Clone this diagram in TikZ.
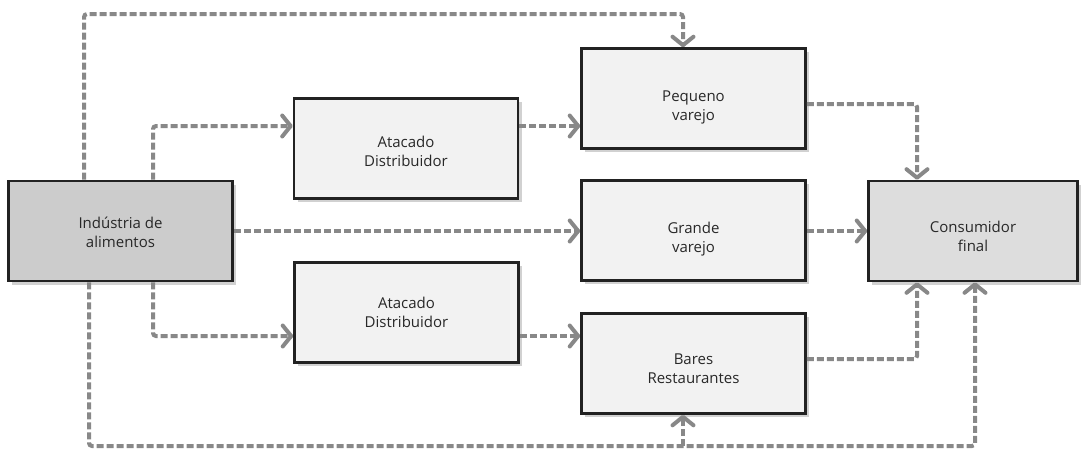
\documentclass[tikz,border=0pt]{standalone}
\usepackage{fontspec}
\setmainfont{Open Sans}
\usetikzlibrary{arrows.meta,shadows}
\definecolor{flowgray}{RGB}{136,136,136}
\definecolor{boxline}{RGB}{34,34,34}
\definecolor{boxlight}{RGB}{242,242,242}
\definecolor{boxdark}{RGB}{204,204,204}
\definecolor{boxmid}{RGB}{221,221,221}
\definecolor{txt}{RGB}{40,40,40}
\begin{document}
\begin{tikzpicture}[x=1pt,y=-1pt,
  box/.style={draw=boxline, line width=2.6pt, fill=boxlight, minimum width=224pt, minimum height=100pt,
    inner sep=0pt,
    drop shadow={shadow xshift=3.5pt, shadow yshift=-3.5pt, fill=black!18, opacity=1}},
  lbl/.style={align=center, text=txt, font=\fontsize{15}{19}\selectfont, inner sep=0pt},
  flow/.style={draw=flowgray, line width=4pt, dash pattern=on 7pt off 3pt, rounded corners=3pt,
    -{Straight Barb[length=8.5pt,width=21pt,round]}}
]
\useasboundingbox (0,0) rectangle (1082,448);
\fill[white] (0,0) rectangle (1082,448);

% junction coordinates
\coordinate (j1) at (683,14);
\coordinate (j2) at (153,126);
\coordinate (j4) at (917,104);
\coordinate (j7) at (153,336);
\coordinate (j9) at (917,359);
\coordinate (j10) at (89,446);
\coordinate (j11) at (975,446);
\coordinate (j12) at (683,446);
\coordinate (x84) at (84,0);

% nodes
\node[box, fill=boxdark, label={[lbl,yshift=-1pt]center:{Indústria de\\alimentos}}] (ind) at (120.5,231) {};
\node[box, label={[lbl,yshift=-3pt]center:{Atacado\\Distribuidor}}] (at1) at (406,148.5) {};
\node[box, label={[lbl]center:{Atacado\\Distribuidor}}] (at2) at (406.5,312.5) {};
\node[box, label={[lbl,yshift=-9pt]center:{Pequeno\\varejo}}] (peq) at (693.5,98.5) {};
\node[box, label={[lbl,yshift=-9pt]center:{Grande\\varejo}}] (gra) at (693.5,230.5) {};
\node[box, label={[lbl,yshift=-5pt]center:{Bares\\Restaurantes}}] (bar) at (693.5,363.5) {};
\node[box, fill=boxmid, minimum width=209pt, label={[lbl,yshift=-5pt]center:{Consumidor\\final}}] (con) at (973,231) {};

% connectors
\draw[flow] (ind.north -| x84) |- (j1) -- (peq.north -| j1);
\draw[flow] (ind.north -| j2) |- (at1.west |- j2);
\draw[flow] (at1.east |- j2) -- (peq.west |- j2);
\draw[flow] (peq.east |- j4) -| (con.north -| j4);
\draw[flow] (ind.east) -- (gra.west |- ind.east);
\draw[flow] (gra.east |- con.west) -- (con.west);
\draw[flow] (ind.south -| j7) |- (at2.west |- j7);
\draw[flow] (at2.east |- j7) -- (bar.west |- j7);
\draw[flow] (bar.east |- j9) -| (con.south -| j9);
\draw[flow] (ind.south -| j10) |- (j11) -- (con.south -| j11);
\draw[flow] (j12) -- (bar.south -| j12);
\end{tikzpicture}
\end{document}
